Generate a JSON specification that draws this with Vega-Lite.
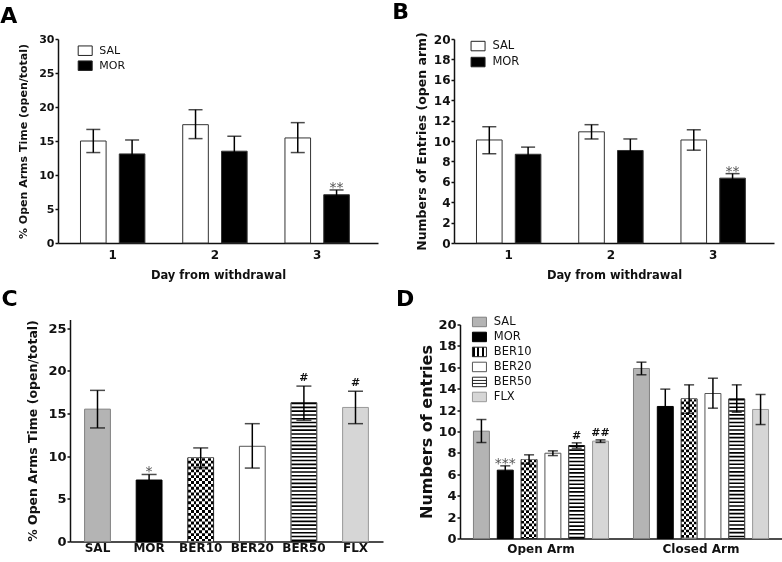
{
"$schema": "https://vega.github.io/schema/vega-lite/v6.json",
"padding": {"left": 0, "top": 0, "right": 0, "bottom": 0},
"background": "white",
"spacing": 6.5,
"resolve": {"scale": {"x": "independent", "y": "independent", "xOffset": "independent", "fill": "independent", "stroke": "independent"}, "legend": {"fill": "independent", "stroke": "independent"}, "axis": {"x": "independent", "y": "independent"}},
"config": {
 "font": "DejaVu Sans",
 "view": {"stroke": null},
 "axis": {"domainColor": "#111", "domainWidth": 1.5, "tickColor": "#111", "tickWidth": 1.5, "tickSize": 3, "labelPadding": 1, "labelColor": "#111", "titleColor": "#111", "labelFont": "DejaVu Sans", "labelFontWeight": "bold", "titleFont": "DejaVu Sans", "titleFontWeight": "bold", "grid": false, "labelOverlap": false},
 "axisX": {"ticks": false, "labelAngle": 0},
 "title": {"font": "DejaVu Sans", "fontWeight": "bold", "fontSize": 22, "anchor": "start", "frame": "bounds", "color": "#000"},
 "legend": {"labelFont": "DejaVu Sans", "labelColor": "#111", "padding": 0}
},
"datasets": {
 "A": [
  {"day":"1","grp":"SAL","mean":15.0,"lo":13.3,"hi":16.7,"sig":""},
  {"day":"1","grp":"MOR","mean":13.1,"lo":11.1,"hi":15.15,"sig":""},
  {"day":"2","grp":"SAL","mean":17.4,"lo":15.35,"hi":19.6,"sig":""},
  {"day":"2","grp":"MOR","mean":13.5,"lo":11.3,"hi":15.7,"sig":""},
  {"day":"3","grp":"SAL","mean":15.45,"lo":13.3,"hi":17.7,"sig":""},
  {"day":"3","grp":"MOR","mean":7.1,"lo":6.4,"hi":7.8,"sig":"**"}
 ],
 "B": [
  {"day":"1","grp":"SAL","mean":10.1,"lo":8.75,"hi":11.4,"sig":""},
  {"day":"1","grp":"MOR","mean":8.7,"lo":8.0,"hi":9.4,"sig":""},
  {"day":"2","grp":"SAL","mean":10.9,"lo":10.2,"hi":11.6,"sig":""},
  {"day":"2","grp":"MOR","mean":9.07,"lo":7.95,"hi":10.2,"sig":""},
  {"day":"3","grp":"SAL","mean":10.1,"lo":9.1,"hi":11.1,"sig":""},
  {"day":"3","grp":"MOR","mean":6.36,"lo":5.94,"hi":6.8,"sig":"**"}
 ],
 "C": [
  {"grp":"SAL","mean":15.5,"lo":13.3,"hi":17.7,"sig":""},
  {"grp":"MOR","mean":7.2,"lo":6.55,"hi":7.85,"sig":"*"},
  {"grp":"BER10","mean":9.8,"lo":8.64,"hi":10.96,"sig":""},
  {"grp":"BER20","mean":11.15,"lo":8.6,"hi":13.8,"sig":""},
  {"grp":"BER50","mean":16.25,"lo":14.2,"hi":18.2,"sig":"#"},
  {"grp":"FLX","mean":15.7,"lo":13.8,"hi":17.6,"sig":"#"}
 ],
 "D": [
  {"arm":"Open Arm","grp":"SAL","mean":10.03,"lo":8.97,"hi":11.12,"sig":""},
  {"arm":"Open Arm","grp":"MOR","mean":6.39,"lo":5.99,"hi":6.79,"sig":"***"},
  {"arm":"Open Arm","grp":"BER10","mean":7.38,"lo":6.94,"hi":7.82,"sig":""},
  {"arm":"Open Arm","grp":"BER20","mean":7.97,"lo":7.75,"hi":8.19,"sig":""},
  {"arm":"Open Arm","grp":"BER50","mean":8.69,"lo":8.44,"hi":8.94,"sig":"#"},
  {"arm":"Open Arm","grp":"FLX","mean":9.1,"lo":8.98,"hi":9.22,"sig":"##"},
  {"arm":"Closed Arm","grp":"SAL","mean":15.89,"lo":15.3,"hi":16.48,"sig":""},
  {"arm":"Closed Arm","grp":"MOR","mean":12.34,"lo":10.72,"hi":13.96,"sig":""},
  {"arm":"Closed Arm","grp":"BER10","mean":13.05,"lo":11.68,"hi":14.36,"sig":""},
  {"arm":"Closed Arm","grp":"BER20","mean":13.55,"lo":12.18,"hi":14.98,"sig":""},
  {"arm":"Closed Arm","grp":"BER50","mean":13.05,"lo":11.8,"hi":14.36,"sig":""},
  {"arm":"Closed Arm","grp":"FLX","mean":12.06,"lo":10.65,"hi":13.46,"sig":""}
 ]
},
"vconcat": [
 {"hconcat": [
  {
   "title": {"text": "A", "dx": -17.5, "offset": 5.5},
   "width": 308, "height": 204,
   "data": {"name": "A"},
   "encoding": {
    "x": {"field": "day", "type": "nominal", "scale": {"range": [-12, 308], "paddingInner": 0.37, "paddingOuter": 0.25, "align": 0.44}, "axis": {"title": "Day from withdrawal", "labelFontSize": 12, "titleFontSize": 11.5, "labelPadding": 6, "titlePadding": 9}},
    "xOffset": {"field": "grp", "type": "nominal", "scale": {"domain": ["SAL", "MOR"], "paddingInner": 0.34, "paddingOuter": 0}}
   },
   "layer": [
    {"mark": {"type": "bar", "strokeWidth": 1, "stroke": "#333"},
     "encoding": {
      "y": {"field": "mean", "type": "quantitative", "scale": {"domain": [0, 30]}, "axis": {"offset": 12, "values": [0,5,10,15,20,25,30], "title": "% Open Arms Time (open/total)", "labelFontSize": 11, "titleFontSize": 11, "titlePadding": 10}},
      "fill": {"field": "grp", "type": "nominal", "scale": {"domain": ["SAL", "MOR"], "range": ["white", "black"]},
       "legend": {"title": null, "orient": "none", "legendX": 9.7, "legendY": 6.2, "symbolType": "M-1.4,-0.95H1.4V0.95H-1.4Z", "symbolSize": 100, "symbolStrokeColor": "#222", "symbolStrokeWidth": 1, "labelFontSize": 11, "labelOffset": 8.6, "rowPadding": 0}}
     }},
    {"mark": {"type": "rule", "color": "black", "strokeWidth": 1.5}, "encoding": {"y": {"field": "lo", "type": "quantitative", "axis": {"offset": 12, "values": [0,5,10,15,20,25,30], "title": "% Open Arms Time (open/total)", "labelFontSize": 11, "titleFontSize": 11, "titlePadding": 10}}, "y2": {"field": "hi"}}},
    {"mark": {"type": "tick", "color": "black", "thickness": 1.5, "size": 14}, "encoding": {"y": {"field": "hi", "type": "quantitative", "axis": {"offset": 12, "values": [0,5,10,15,20,25,30], "title": "% Open Arms Time (open/total)", "labelFontSize": 11, "titleFontSize": 11, "titlePadding": 10}}}},
    {"mark": {"type": "tick", "color": "black", "thickness": 1.5, "size": 14}, "encoding": {"y": {"field": "lo", "type": "quantitative", "axis": {"offset": 12, "values": [0,5,10,15,20,25,30], "title": "% Open Arms Time (open/total)", "labelFontSize": 11, "titleFontSize": 11, "titlePadding": 10}}}},
    {"mark": {"type": "text", "color": "#555", "fontSize": 14, "dy": 2, "baseline": "alphabetic"}, "encoding": {"y": {"field": "hi", "type": "quantitative", "axis": {"offset": 12, "values": [0,5,10,15,20,25,30], "title": "% Open Arms Time (open/total)", "labelFontSize": 11, "titleFontSize": 11, "titlePadding": 10}}, "text": {"field": "sig"}}}
   ]
  },
  {
   "title": {"text": "B", "dx": -23, "offset": 8},
   "width": 320, "height": 204,
   "data": {"name": "B"},
   "encoding": {
    "x": {"field": "day", "type": "nominal", "scale": {"paddingInner": 0.37, "paddingOuter": 0.25, "align": 0.44}, "axis": {"title": "Day from withdrawal", "labelFontSize": 12, "titleFontSize": 11.5, "labelPadding": 6, "titlePadding": 9}},
    "xOffset": {"field": "grp", "type": "nominal", "scale": {"domain": ["SAL", "MOR"], "paddingInner": 0.34, "paddingOuter": 0}}
   },
   "layer": [
    {"mark": {"type": "bar", "strokeWidth": 1, "stroke": "#333"},
     "encoding": {
      "y": {"field": "mean", "type": "quantitative", "scale": {"domain": [0, 20]}, "axis": {"values": [0,2,4,6,8,10,12,14,16,18,20], "title": "Numbers of Entries (open arm)", "labelFontSize": 12, "titleFontSize": 12.5, "titlePadding": 5}},
      "fill": {"field": "grp", "type": "nominal", "scale": {"domain": ["SAL", "MOR"], "range": ["white", "black"]},
       "legend": {"title": null, "orient": "none", "legendX": 18.3, "legendY": 1.3, "symbolType": "M-1.4,-0.95H1.4V0.95H-1.4Z", "symbolSize": 100, "symbolStrokeColor": "#222", "symbolStrokeWidth": 1, "labelFontSize": 11.5, "labelOffset": 8.6, "rowPadding": 2}}
     }},
    {"mark": {"type": "rule", "color": "black", "strokeWidth": 1.5}, "encoding": {"y": {"field": "lo", "type": "quantitative", "axis": {"values": [0,2,4,6,8,10,12,14,16,18,20], "title": "Numbers of Entries (open arm)", "labelFontSize": 12, "titleFontSize": 12.5, "titlePadding": 5}}, "y2": {"field": "hi"}}},
    {"mark": {"type": "tick", "color": "black", "thickness": 1.5, "size": 14}, "encoding": {"y": {"field": "hi", "type": "quantitative", "axis": {"values": [0,2,4,6,8,10,12,14,16,18,20], "title": "Numbers of Entries (open arm)", "labelFontSize": 12, "titleFontSize": 12.5, "titlePadding": 5}}}},
    {"mark": {"type": "tick", "color": "black", "thickness": 1.5, "size": 14}, "encoding": {"y": {"field": "lo", "type": "quantitative", "axis": {"values": [0,2,4,6,8,10,12,14,16,18,20], "title": "Numbers of Entries (open arm)", "labelFontSize": 12, "titleFontSize": 12.5, "titlePadding": 5}}}},
    {"mark": {"type": "text", "color": "#555", "fontSize": 14, "dy": 2, "baseline": "alphabetic"}, "encoding": {"y": {"field": "hi", "type": "quantitative", "axis": {"values": [0,2,4,6,8,10,12,14,16,18,20], "title": "Numbers of Entries (open arm)", "labelFontSize": 12, "titleFontSize": 12.5, "titlePadding": 5}}, "text": {"field": "sig"}}}
   ]
  }
 ], "spacing": 2,
 "resolve": {"scale": {"x": "independent", "y": "independent", "xOffset": "independent", "fill": "independent", "stroke": "independent"}, "legend": {"fill": "independent", "stroke": "independent"}}},
 {"hconcat": [
  {
   "title": {"text": "C", "dx": -25.5, "offset": 9},
   "width": 313, "height": 222,
   "data": {"name": "C"},
   "encoding": {
    "x": {"field": "grp", "type": "nominal", "sort": ["SAL","MOR","BER10","BER20","BER50","FLX"], "scale": {"paddingInner": 0.5, "paddingOuter": 0.283}, "axis": {"title": null, "labelFontSize": 12, "labelPadding": 1}}
   },
   "layer": [
    {"mark": {"type": "bar", "strokeWidth": 1},
     "encoding": {
      "y": {"field": "mean", "type": "quantitative", "scale": {"domain": [0, 25]}, "axis": {"values": [0,5,10,15,20,25], "title": "% Open Arms Time (open/total)", "labelFontSize": 13, "titleFontSize": 12.5, "titlePadding": 8}},
      "fill": {"field": "grp", "type": "nominal", "scale": {"domain": ["SAL","MOR","BER10","BER20","BER50","FLX"], "range": ["#b4b4b4", "#000000", {"expr": "{gradient:'linear',x1:0,y1:0,x2:1,y2:0,stops:[{offset:0,color:'#000'},{offset:0.111,color:'#000'},{offset:0.111,color:'#fff'},{offset:0.222,color:'#fff'},{offset:0.222,color:'#000'},{offset:0.333,color:'#000'},{offset:0.333,color:'#fff'},{offset:0.444,color:'#fff'},{offset:0.444,color:'#000'},{offset:0.556,color:'#000'},{offset:0.556,color:'#fff'},{offset:0.667,color:'#fff'},{offset:0.667,color:'#000'},{offset:0.778,color:'#000'},{offset:0.778,color:'#fff'},{offset:0.889,color:'#fff'},{offset:0.889,color:'#000'},{offset:1,color:'#000'}]}"}, "#ffffff", "#ffffff", "#d6d6d6"]}, "legend": null},
      "stroke": {"field": "grp", "type": "nominal", "scale": {"domain": ["SAL","MOR","BER10","BER20","BER50","FLX"], "range": ["#808080", "#000", "#222", "#555", "#222", "#999"]}, "legend": null}
     }},
    {"transform": [{"filter": "datum.grp === 'BER10'"}],
     "mark": {"type": "rule", "color": "white", "strokeWidth": 24.8, "strokeDash": [2.9, 2.9], "blend": "difference"},
     "encoding": {"y": {"field": "mean", "type": "quantitative", "axis": {"values": [0,5,10,15,20,25], "title": "% Open Arms Time (open/total)", "labelFontSize": 13, "titleFontSize": 12.5, "titlePadding": 8}}, "y2": {"datum": 0}}},
    {"transform": [{"filter": "datum.grp === 'BER50'"}],
     "mark": {"type": "rule", "color": "black", "strokeWidth": 24.8, "strokeDash": [1.6, 2.2]},
     "encoding": {"y": {"field": "mean", "type": "quantitative", "axis": {"values": [0,5,10,15,20,25], "title": "% Open Arms Time (open/total)", "labelFontSize": 13, "titleFontSize": 12.5, "titlePadding": 8}}, "y2": {"datum": 0}}},
    {"mark": {"type": "rule", "color": "black", "strokeWidth": 1.5}, "encoding": {"y": {"field": "lo", "type": "quantitative", "axis": {"values": [0,5,10,15,20,25], "title": "% Open Arms Time (open/total)", "labelFontSize": 13, "titleFontSize": 12.5, "titlePadding": 8}}, "y2": {"field": "hi"}}},
    {"mark": {"type": "tick", "color": "black", "thickness": 1.5, "size": 15}, "encoding": {"y": {"field": "hi", "type": "quantitative", "axis": {"values": [0,5,10,15,20,25], "title": "% Open Arms Time (open/total)", "labelFontSize": 13, "titleFontSize": 12.5, "titlePadding": 8}}}},
    {"mark": {"type": "tick", "color": "black", "thickness": 1.5, "size": 15}, "encoding": {"y": {"field": "lo", "type": "quantitative", "axis": {"values": [0,5,10,15,20,25], "title": "% Open Arms Time (open/total)", "labelFontSize": 13, "titleFontSize": 12.5, "titlePadding": 8}}}},
    {"transform": [{"filter": "indexof(datum.sig, '*') >= 0"}],
     "mark": {"type": "text", "color": "#555", "fontSize": 14, "dy": 2, "baseline": "alphabetic"}, "encoding": {"y": {"field": "hi", "type": "quantitative", "axis": {"values": [0,5,10,15,20,25], "title": "% Open Arms Time (open/total)", "labelFontSize": 13, "titleFontSize": 12.5, "titlePadding": 8}}, "text": {"field": "sig"}}},
    {"transform": [{"filter": "indexof(datum.sig, '#') >= 0"}],
     "mark": {"type": "text", "color": "#111", "fontSize": 11, "fontWeight": "bold", "dy": -5, "baseline": "alphabetic"}, "encoding": {"y": {"field": "hi", "type": "quantitative", "axis": {"values": [0,5,10,15,20,25], "title": "% Open Arms Time (open/total)", "labelFontSize": 13, "titleFontSize": 12.5, "titlePadding": 8}}, "text": {"field": "sig"}}}
   ]
  },
  {
   "title": {"text": "D", "dx": -23, "offset": 5.2},
   "width": 322, "height": 219,
   "data": {"name": "D"},
   "encoding": {
    "x": {"field": "arm", "type": "nominal", "sort": ["Open Arm", "Closed Arm"], "scale": {"paddingInner": 0.156, "paddingOuter": 0.084}, "axis": {"title": null, "labelFontSize": 12, "labelPadding": 5}},
    "xOffset": {"field": "grp", "type": "nominal", "scale": {"domain": ["SAL","MOR","BER10","BER20","BER50","FLX"], "paddingInner": 0.33, "paddingOuter": 0}}
   },
   "layer": [
    {"mark": {"type": "bar", "strokeWidth": 1},
     "encoding": {
      "y": {"field": "mean", "type": "quantitative", "scale": {"domain": [0, 20], "range": [219, 5]}, "axis": {"values": [0,2,4,6,8,10,12,14,16,18,20], "title": "Numbers of entries", "labelFontSize": 13, "titleFontSize": 16, "titlePadding": 3}},
      "fill": {"field": "grp", "type": "nominal", "scale": {"domain": ["SAL","MOR","BER10","BER20","BER50","FLX"], "range": ["#b4b4b4", "#000000", {"expr": "{gradient:'linear',x1:0,y1:0,x2:1,y2:0,stops:[{offset:0,color:'#000'},{offset:0.167,color:'#000'},{offset:0.167,color:'#fff'},{offset:0.333,color:'#fff'},{offset:0.333,color:'#000'},{offset:0.5,color:'#000'},{offset:0.5,color:'#fff'},{offset:0.667,color:'#fff'},{offset:0.667,color:'#000'},{offset:0.833,color:'#000'},{offset:0.833,color:'#fff'},{offset:1,color:'#fff'}]}"}, "#ffffff", "#ffffff", "#d6d6d6"]},
       "legend": {"title": null, "orient": "none", "legendX": 13.7, "legendY": -3.3, "symbolType": "M-1.4,-0.95H1.4V0.95H-1.4Z", "symbolSize": 100, "symbolStrokeColor": "#222", "symbolStrokeWidth": 1, "labelFontSize": 11.5, "labelOffset": 8.6, "rowPadding": 1,
        "encode": {"symbols": {"update": {"shape": {"signal": "datum.value === 'BER50' ? 'M-1.4,-0.95H1.4V0.95H-1.4Z M-1.4,-0.3H1.4 M-1.4,0.3H1.4' : 'M-1.4,-0.95H1.4V0.95H-1.4Z'"}, "stroke": {"signal": "datum.value === 'SAL' || datum.value === 'FLX' ? '#888' : '#111'"}}}}}},
      "stroke": {"field": "grp", "type": "nominal", "scale": {"domain": ["SAL","MOR","BER10","BER20","BER50","FLX"], "range": ["#808080", "#000", "#222", "#555", "#222", "#999"]}, "legend": null}
     }},
    {"transform": [{"filter": "datum.grp === 'BER10'"}],
     "mark": {"type": "rule", "color": "white", "strokeWidth": 15, "strokeDash": [2.67, 2.67], "blend": "difference"},
     "encoding": {"y": {"field": "mean", "type": "quantitative", "axis": {"values": [0,2,4,6,8,10,12,14,16,18,20], "title": "Numbers of entries", "labelFontSize": 13, "titleFontSize": 16, "titlePadding": 3}}, "y2": {"datum": 0}}},
    {"transform": [{"filter": "datum.grp === 'BER50'"}],
     "mark": {"type": "rule", "color": "black", "strokeWidth": 15, "strokeDash": [1.6, 2.2]},
     "encoding": {"y": {"field": "mean", "type": "quantitative", "axis": {"values": [0,2,4,6,8,10,12,14,16,18,20], "title": "Numbers of entries", "labelFontSize": 13, "titleFontSize": 16, "titlePadding": 3}}, "y2": {"datum": 0}}},
    {"mark": {"type": "rule", "color": "black", "strokeWidth": 1.5}, "encoding": {"y": {"field": "lo", "type": "quantitative", "axis": {"values": [0,2,4,6,8,10,12,14,16,18,20], "title": "Numbers of entries", "labelFontSize": 13, "titleFontSize": 16, "titlePadding": 3}}, "y2": {"field": "hi"}}},
    {"mark": {"type": "tick", "color": "black", "thickness": 1.5, "size": 10}, "encoding": {"y": {"field": "hi", "type": "quantitative", "axis": {"values": [0,2,4,6,8,10,12,14,16,18,20], "title": "Numbers of entries", "labelFontSize": 13, "titleFontSize": 16, "titlePadding": 3}}}},
    {"mark": {"type": "tick", "color": "black", "thickness": 1.5, "size": 10}, "encoding": {"y": {"field": "lo", "type": "quantitative", "axis": {"values": [0,2,4,6,8,10,12,14,16,18,20], "title": "Numbers of entries", "labelFontSize": 13, "titleFontSize": 16, "titlePadding": 3}}}},
    {"transform": [{"filter": "indexof(datum.sig, '*') >= 0"}],
     "mark": {"type": "text", "color": "#555", "fontSize": 14, "dy": 2, "baseline": "alphabetic"}, "encoding": {"y": {"field": "hi", "type": "quantitative", "axis": {"values": [0,2,4,6,8,10,12,14,16,18,20], "title": "Numbers of entries", "labelFontSize": 13, "titleFontSize": 16, "titlePadding": 3}}, "text": {"field": "sig"}}},
    {"transform": [{"filter": "indexof(datum.sig, '#') >= 0"}],
     "mark": {"type": "text", "color": "#111", "fontSize": 11, "fontWeight": "bold", "dy": -4, "baseline": "alphabetic"}, "encoding": {"y": {"field": "hi", "type": "quantitative", "axis": {"values": [0,2,4,6,8,10,12,14,16,18,20], "title": "Numbers of entries", "labelFontSize": 13, "titleFontSize": 16, "titlePadding": 3}}, "text": {"field": "sig"}}}
   ]
  }
 ], "spacing": 12,
 "resolve": {"scale": {"x": "independent", "y": "independent", "xOffset": "independent", "fill": "independent", "stroke": "independent"}, "legend": {"fill": "independent", "stroke": "independent"}}}
]
}
